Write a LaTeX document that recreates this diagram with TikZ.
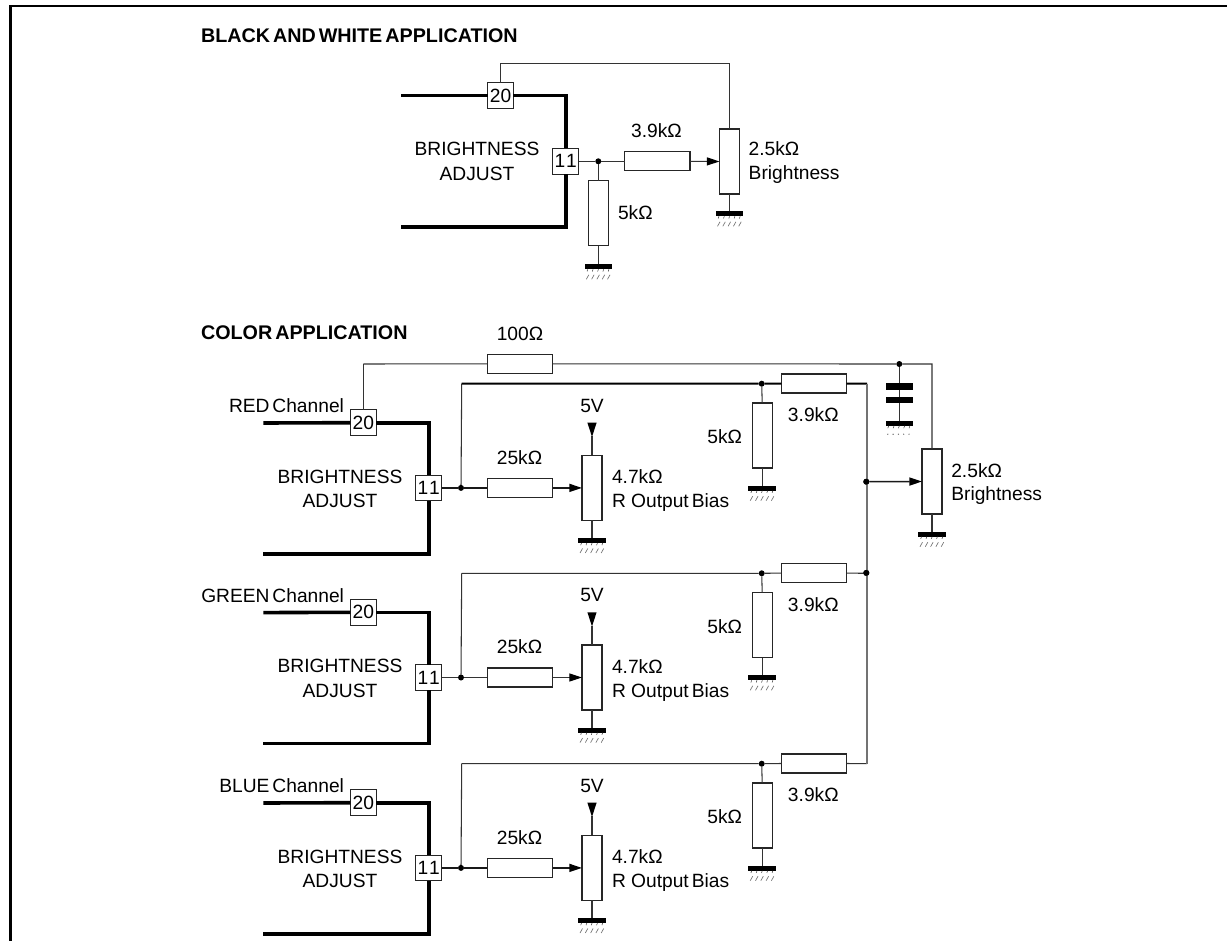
\documentclass[tikz,border=0pt]{standalone}
\usepackage{fontspec}
\setmainfont[WordSpace=0.55]{Liberation Sans}
\usetikzlibrary{arrows.meta}
\tikzset{
  wire/.style={line width=0.8pt,draw=black!80},
  midwire/.style={line width=1.15pt,draw=black!90},
  railwire/.style={line width=1.5pt,draw=black},
  busbar/.style={line width=1.15pt,draw=black!55},
  heavy/.style={line width=2.7pt,draw=black,line join=miter},
  tiparrow/.style={-{Triangle[length=9.5pt,width=6pt,black]}},
  hres/.style={draw=black!85,fill=white,line width=0.9pt,inner sep=0pt,outer sep=0pt,minimum width=49pt,minimum height=14.2pt},
  vres/.style={draw=black!85,fill=white,line width=0.9pt,inner sep=0pt,outer sep=0pt,minimum width=15pt,minimum height=48.8pt},
  pinbox/.style={draw=black!85,fill=white,line width=0.8pt,inner sep=0pt,outer sep=0pt,minimum size=19.3pt,font=\fontsize{14.4pt}{16pt}\selectfont},
  jdot/.style={circle,fill=black,inner sep=0pt,outer sep=0pt,minimum size=4.5pt},
  plate/.style={fill=black,inner sep=0pt,outer sep=0pt,minimum width=20.3pt},
  lbl/.style={inner sep=0pt,outer sep=0pt,font=\fontsize{14.4pt}{16pt}\selectfont},
  ttl/.style={inner sep=0pt,outer sep=0pt,anchor=west,font=\fontsize{14.8pt}{16pt}\selectfont\bfseries},
  gnd/.pic={
    \fill[black] (-13.8,0) rectangle (13.8,5);
    \foreach \i in {0,...,4}{
      \draw[black!75,line width=0.4pt] ({-10.5+5.3*\i},5) -- ({-11.3+5.3*\i},7.2);
      \draw[black!55,line width=0.5pt] ({-12+5.3*\i},15) -- ({-9.5+5.3*\i},10.5);
    }
  },
  gndb/.pic={
    \fill[black] (-13.8,0) rectangle (13.8,5);
    \foreach \i in {0,...,4}{
      \draw[black!75,line width=0.4pt] ({-10.5+5.3*\i},5) -- ({-11.5+5.3*\i},7.5);
      \fill[black!60] ({-11.5+5.3*\i},13.5) circle (0.7);
    }
  },
  vtip/.pic={\fill[black] (-4.6,0) -- (4.6,0) -- (0,14.2) -- cycle;}
}
\begin{document}
\begin{tikzpicture}[x=0.75pt,y=-0.75pt]
\useasboundingbox (0,0) rectangle (1227,941);
\coordinate (fa) at (1227,6);
\coordinate (fb) at (10.5,941);
\draw[line width=1.6pt,black] (fa) -| (fb);

% ---------- black and white application
\node[ttl] (t1) at (201,35.5) {BLACK AND WHITE APPLICATION};
\node[pinbox] (bw20) at (500.5,95.7) {20};
\node[pinbox] (bw11) at (565.7,161.3) {1\kern0.6pt 1};
\coordinate (bwa) at (401,95.7);
\coordinate (bwb) at (401,227);
\draw[heavy] (bwa) -- (bw20.west);
\draw[heavy] (bw20.east) -| (bw11.north);
\draw[heavy] (bw11.south) |- (bwb);
\node[hres] (bwr) at (657.3,161.3) {};
\node[vres] (bwp) at (729.5,161.5) {};
\node[vres] (bwv) at (598.3,213.2) {};
\node[jdot] (bwd) at (598.3,161.3) {};
\coordinate (bwt) at (500.5,63.5);
\coordinate (bwu) at (729.5,63.5);
\draw[wire] (bw20.north) -- (bwt) -- (bwu) -- (bwp.north);
\draw[wire] (bw11.east) -- (bwd) -- (bwr.west);
\draw[wire,tiparrow] (bwr.east) -- (bwp.west);
\draw[wire] (bwd) -- (bwv.north);
\coordinate (bwg1) at (598.3,264.3);
\coordinate (bwg2) at (729.5,211.3);
\draw[wire] (bwv.south) -- (bwg1);
\draw[wire] (bwp.south) -- (bwg2);
\pic at (bwg1) {gnd};
\pic at (bwg2) {gnd};
\node[lbl] (bwl1) at (477,149) {BRIGHTNESS};
\node[lbl] (bwl2) at (477,174) {ADJUST};
\node[lbl] (bwl3) at (656.5,130.7) {3.9kΩ};
\node[lbl,anchor=west] (bwl4) at (748.7,149) {2.5kΩ};
\node[lbl,anchor=west] (bwl5) at (748.7,175) {Brightness};
\node[lbl,anchor=west] (bwl6) at (618,213) {5kΩ};

% ---------- color application
\node[ttl] (t2) at (201,332.5) {COLOR APPLICATION};
\node[lbl] (c100) at (520,334) {100Ω};
\node[hres] (r100) at (520,363.8) {};
\node[jdot] (dcap) at (899.3,364) {};
\node[vres] (mp) at (932,481.5) {};
\coordinate (tlft) at (363.3,364);
\coordinate (trgt) at (932,364);
\node[plate,minimum height=5.2pt] (p1) at (899.3,386.8) {};
\node[plate,minimum height=4.8pt] (p2) at (899.3,399.9) {};
\coordinate (gcap) at (899.3,420.7);
\draw[wire] (dcap) -- (p1.north);
\draw[wire] (p1.south) -- (p2.north);
\draw[wire] (p2.south) -- (gcap);
\pic at (gcap) {gndb};
\coordinate (gm) at (932,531.7);
\draw[wire] (mp.south) -- (gm);
\pic at (gm) {gnd};
\draw[wire] (r100.east) -- (dcap) -- (trgt) -- (mp.north);
\node[jdot] (dwip) at (866.3,481.7) {};
\draw[midwire,tiparrow] (dwip) -- (mp.west);
\node[lbl,anchor=west] (ml1) at (951.3,470.7) {2.5kΩ};
\node[lbl,anchor=west] (ml2) at (951.3,496) {Brightness};
\node[jdot] (dbus) at (866.3,572.9) {};
\coordinate (bust) at (867,383.7);
\coordinate (busb) at (867,763.7);

\foreach \c/\dy/\txt/\rail/\low in {1/0/RED Channel/railwire/midwire,2/189.6/GREEN Channel/wire/wire,3/380/BLUE Channel/wire/midwire}{
\begin{scope}[shift={(0,\dy)}]
  \node[pinbox] (a\c) at (363.3,422.7) {20};
  \node[pinbox] (b\c) at (428.7,487.9) {1\kern0.6pt 1};
  \coordinate (ta\c) at (263.3,423);
  \coordinate (tb\c) at (263.3,554);
  \draw[heavy] (ta\c) -- (a\c.west);
  \draw[heavy] (a\c.east) -| (b\c.north);
  \draw[heavy] (b\c.south) |- (tb\c);
  \node[jdot] (d\c) at (461,487.9) {};
  \node[hres] (r\c) at (520,487.9) {};
  \node[vres] (p\c) at (592,487.9) {};
  \draw[\low] (b\c.east) -- (d\c) -- (r\c.west);
  \draw[\low,tiparrow] (r\c.east) -- (p\c.west);
  \coordinate (vt\c) at (592,422.7);
  \coordinate (vm\c) at (592,436);
  \draw[wire] (vm\c) -- (p\c.north);
  \pic at (vt\c) {vtip};
  \coordinate (gp\c) at (592,538);
  \draw[wire] (p\c.south) -- (gp\c);
  \pic at (gp\c) {gnd};
  \node[jdot] (e\c) at (761.7,383.7) {};
  \node[hres] (q\c) at (814,383.5) {};
  \node[vres] (v\c) at (762.2,435.5) {};
  \coordinate (gv\c) at (762.2,485.7);
  \draw[wire] (v\c.south) -- (gv\c);
  \pic at (gv\c) {gnd};
  \draw[wire] (e\c) -- (v\c.north);
  \coordinate (up\c) at (461.7,383.7);
  \draw[wire] (d\c) -- (up\c);
  \draw[\rail] (up\c) -- (e\c) -- (q\c.west);
  \coordinate (oq\c) at (867,383.7);
  \draw[\rail] (q\c.east) -- (oq\c);
  \node[lbl,anchor=east] (cn\c) at (344,405.7) {\txt};
  \node[lbl] (bb\c) at (340,476.7) {BRIGHTNESS};
  \node[lbl] (aj\c) at (340,501) {ADJUST};
  \node[lbl] (fv\c) at (592,405.7) {5V};
  \node[lbl] (tf\c) at (519.5,457.3) {25kΩ};
  \node[lbl,anchor=west] (ok\c) at (612,476.7) {4.7kΩ};
  \node[lbl,anchor=west] (ob\c) at (612,502.7) {R\kern4pt Output Bias};
  \node[lbl] (fk\c) at (724.7,436.7) {5kΩ};
  \node[lbl] (tn\c) at (813.3,414.7) {3.9kΩ};
\end{scope}
}
\draw[busbar] (bust) -- (busb);
\fill[black] (dwip) circle (3);
\fill[black] (dbus) circle (3);
\draw[wire] (tlft) -- (r100.west);
\draw[wire] (tlft) -- (a1.north);
\end{tikzpicture}
\end{document}
